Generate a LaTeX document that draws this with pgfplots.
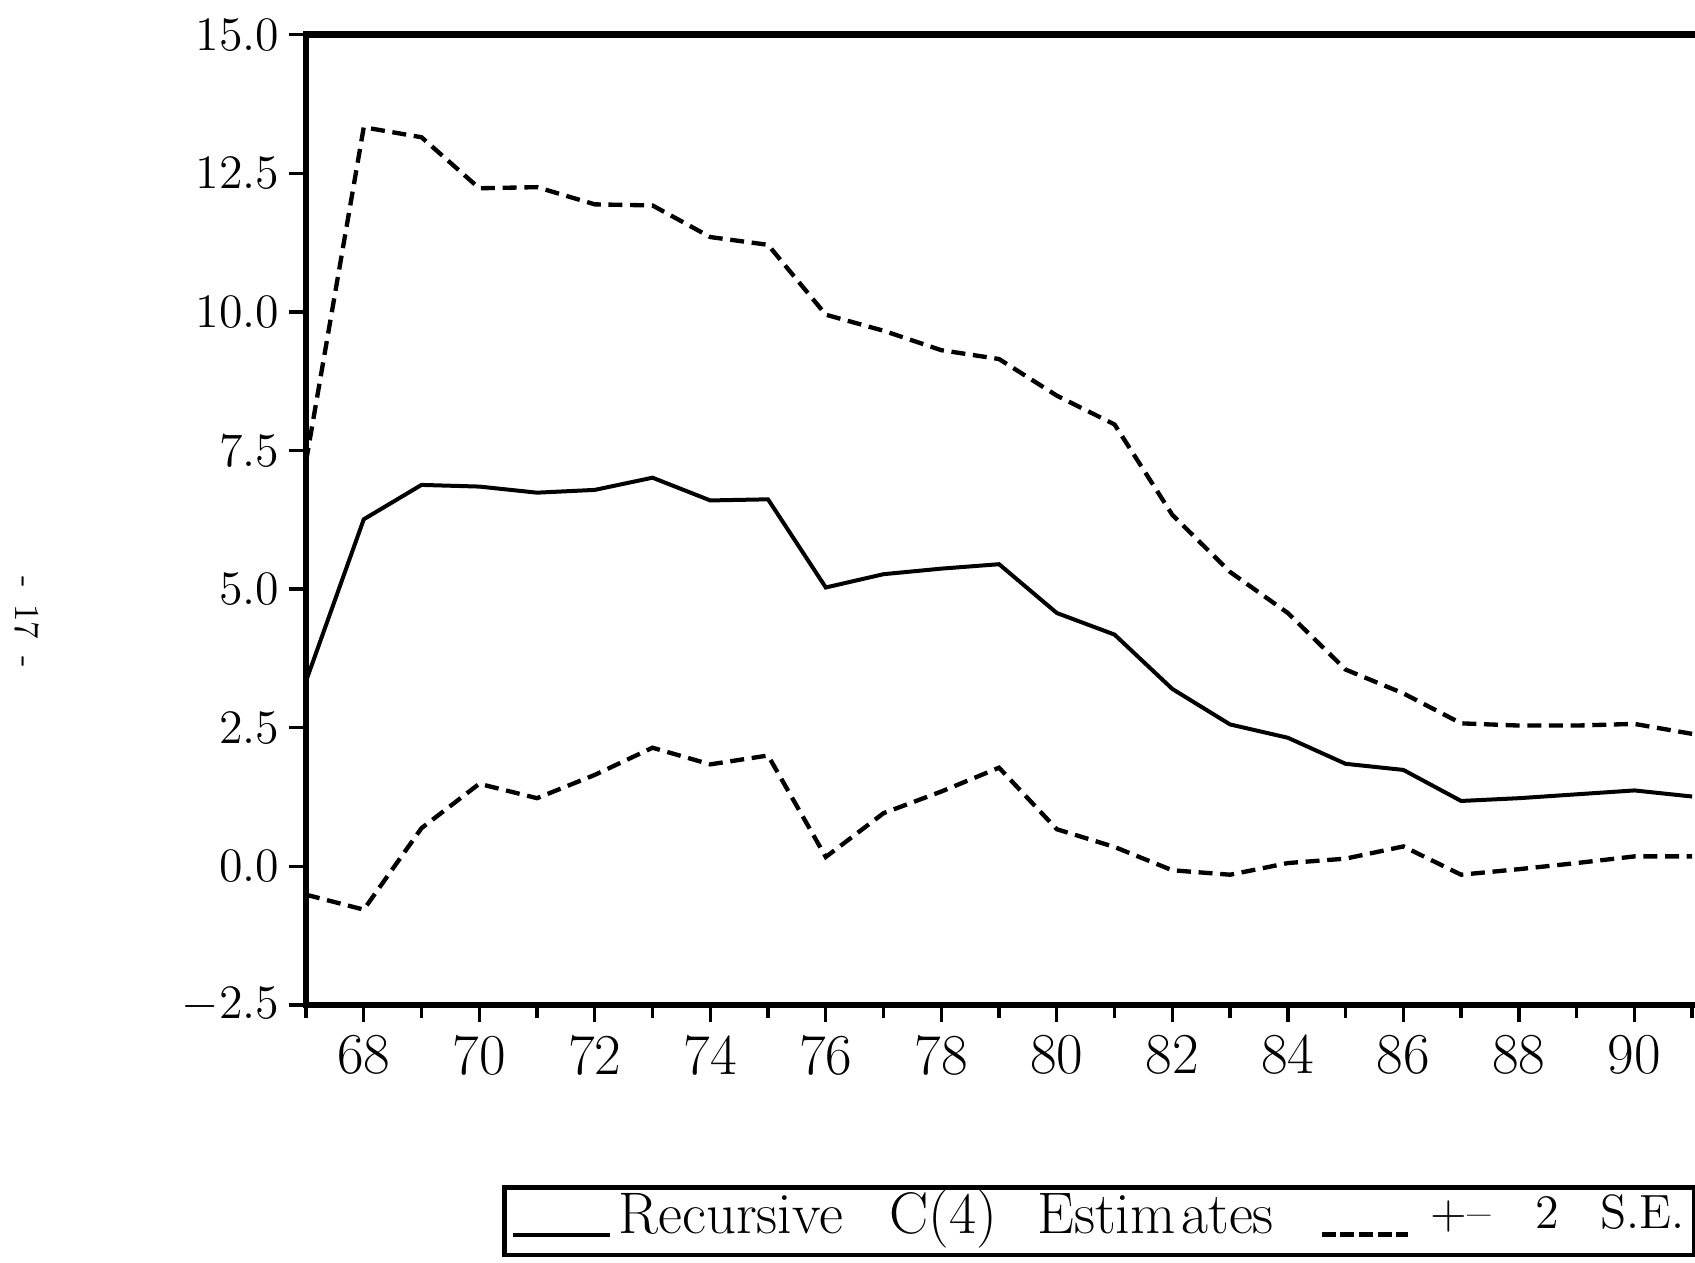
\documentclass[border=0pt]{standalone}
\usepackage{fontspec}
\usepackage{graphicx}
\usepackage{pgfplots}
\pgfplotsset{compat=1.18}
\usepackage{pgfplotstable}

\pgfplotstableread{
year est up lo
67 3.34 7.30 -0.51
68 6.26 13.33 -0.78
69 6.88 13.15 0.69
70 6.85 12.23 1.49
71 6.74 12.25 1.23
72 6.79 11.94 1.65
73 7.01 11.92 2.14
74 6.60 11.35 1.84
75 6.62 11.21 2.00
76 5.03 9.95 0.17
77 5.27 9.66 0.96
78 5.37 9.31 1.35
79 5.45 9.15 1.78
80 4.57 8.49 0.67
81 4.18 7.97 0.35
82 3.20 6.34 -0.07
83 2.56 5.31 -0.15
84 2.32 4.57 0.06
85 1.85 3.55 0.14
86 1.74 3.12 0.36
87 1.18 2.58 -0.15
88 1.23 2.54 -0.05
89 1.30 2.54 0.06
90 1.37 2.57 0.18
91 1.26 2.39 0.18
}\datatab

\pgfplotsset{
  solidleg/.style={legend image code/.code={\draw[##1] (0pt,-4pt) -- (29pt,-4pt);}},
  dashleg/.style={legend image code/.code={\draw[##1, dash pattern=on 4.2pt off 1.4pt] (0pt,-4pt) -- (26pt,-4pt);}},
}

\begin{document}
\begin{tikzpicture}[x=1pt,y=1pt]
\useasboundingbox (0,0) rectangle (508.5,378.6);
\node[rotate=-90, font=\fontsize{10.5}{12}\selectfont, inner sep=0pt] at (8.1,192) {-\hspace{5pt}17\hspace{5pt}-};
\begin{axis}[
  at={(91.8pt,77.1pt)}, anchor=south west,
  scale only axis, width=416.7pt, height=291.1pt,
  xmin=67, xmax=91.05, ymin=-2.5, ymax=15,
  axis x line*=box, axis y line*=left,
  axis line style={line width=2pt, -, line cap=rect},
  xtick={68,70,...,90}, minor xtick={67,69,...,91},
  ytick={-2.5,0,2.5,5,7.5,10,12.5,15},
  xtick pos=bottom, ytick pos=left,
  tick align=outside,
  major tick length=5pt, minor tick length=3.8pt,
  tick style={line width=1pt, black},
  yticklabel style={font=\fontsize{14.4}{17}\selectfont, xshift=0.5pt,
    /pgf/number format/.cd, fixed, fixed zerofill, precision=1},
  xticklabel={\scalebox{1.12}{\pgfmathprintnumber{\tick}}},
  xticklabel style={font=\fontsize{15.5}{18}\selectfont, yshift=-0.5pt,
    /pgf/number format/.cd, 1000 sep={}, assume math mode=true},
  legend style={at={(axis description cs:0.1411,-0.1858)}, anchor=north west,
    draw=black, line width=1.4pt, font=\fontsize{16}{19}\selectfont,
    inner xsep=2pt, inner ysep=0pt,
    nodes={inner xsep=1pt, inner ysep=0.5pt, text depth=6pt},
    /tikz/every even column/.append style={column sep=12.7pt}},
  legend columns=2,
  legend cell align=left,
]
\addplot[black, line width=1.2pt, solidleg]
  table[x=year,y=est] {\datatab};
\addlegendentry{\scalebox{1.1}{\hspace{1pt}Recursive\hspace{12.5pt}C(4)\hspace{11pt}Estim\kern1.5pt ates}}
\addplot[black, line width=1.3pt, dash pattern=on 4.2pt off 2.3pt, dashleg]
  table[x=year,y=up] {\datatab};
\addlegendentry{\hspace{5pt}\scalebox{1.03}{\fontsize{14}{17}\selectfont +--\hspace{13pt}2\hspace{12pt}S.E.}}
\addplot[black, line width=1.3pt, dash pattern=on 4.2pt off 2.3pt, forget plot]
  table[x=year,y=lo] {\datatab};
\end{axis}
\end{tikzpicture}
\end{document}
